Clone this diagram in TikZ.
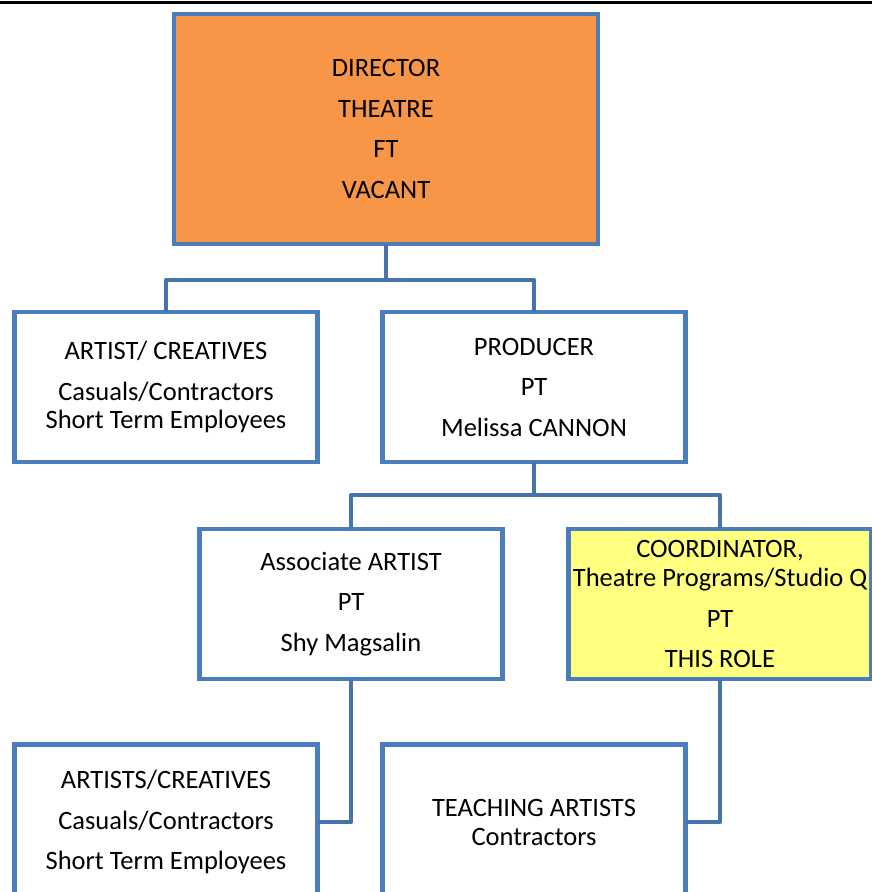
\documentclass[tikz,border=0pt]{standalone}
\usepackage{fontspec}
\setmainfont{Carlito}
\usetikzlibrary{positioning}
\definecolor{boxblue}{HTML}{4A7EBB}
\definecolor{linkblue}{HTML}{4673AA}
\definecolor{dirorange}{HTML}{F79646}
\definecolor{roleyellow}{HTML}{FFFF80}

\begin{document}
\begin{tikzpicture}[
    x=1pt, y=-1pt,
    node distance=65pt,
    orgbox/.style={rectangle, draw=boxblue, line width=4.5pt, fill=white, align=center, inner sep=0pt, outer sep=0pt, minimum width=303pt, minimum height=150pt, font=\fontsize{26.5}{40.5}\selectfont},
    link/.style={draw=linkblue, line width=4pt, line join=round}
]
    \useasboundingbox (0,0) rectangle (872,892);
    \clip (0,0) rectangle (872,892);
    \draw [line width=2.5pt] (0,2.5) -- (872,2.5);

    \node [orgbox, fill=dirorange, minimum width=424pt, minimum height=230pt] (director) at (386,129) {DIRECTOR\\THEATRE\\FT\\VACANT};
    \node [orgbox] (artists) at (166,387) {ARTIST/ CREATIVES\\Casuals/Contractors\\[-12.5pt]Short Term Employees};
    \node [orgbox, right=of artists] (producer) {PRODUCER\\PT\\Melissa CANNON};
    \node [orgbox] (associate) at (351,604) {Associate ARTIST\\PT\\Shy Magsalin};
    \node [orgbox, fill=roleyellow, right=66pt of associate] (coordinator) {COORDINATOR,\\[-11.5pt]Theatre Programs/Studio Q\\PT\\THIS ROLE};
    \node [orgbox, minimum height=155pt] (creatives) at (166,822) {ARTISTS/CREATIVES\\Casuals/Contractors\\Short Term Employees};
    \node [orgbox, minimum height=155pt, right=of creatives] (teaching) {TEACHING ARTISTS\\[-11.5pt]Contractors};

    \draw [link] (director.south) -- ++(0,36) -| (artists.north);
    \draw [link] (director.south) -- ++(0,36) -| (producer.north);
    \draw [link] (producer.south) -- ++(0,33) -| (associate.north);
    \draw [link] (producer.south) -- ++(0,33) -| (coordinator.north);
    \draw [link] (associate.south) |- (creatives.east);
    \draw [link] (coordinator.south) |- (teaching.east);
\end{tikzpicture}
\end{document}
